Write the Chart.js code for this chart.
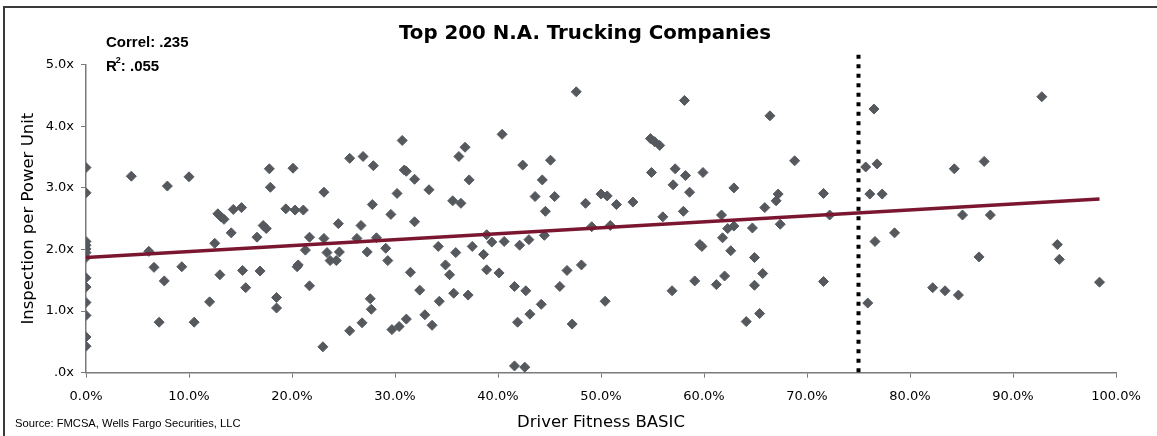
<!DOCTYPE html>
<html>
<head>
<meta charset="utf-8">
<script src="https://cdn.jsdelivr.net/npm/chart.js@4"></script>
<style>
  html, body { margin: 0; padding: 0; background: #fff; }
  #wrap { position: relative; width: 1157px; height: 436px; overflow: hidden; }
  #frame { position: absolute; left: 3px; top: 6px; width: 1200px; height: 480px;
           border-top: 2px solid #3a3a3a; border-left: 2px solid #3a3a3a; pointer-events: none; }
</style>
</head>
<body>
<div id="wrap">
  <canvas id="myChart" width="1157" height="436"></canvas>
  <div id="frame"></div>
</div>
<script>
// driver fitness BASIC (%) per carrier
const fitnessPct = [
  0, 0, 0, 0, 0, 0, 0, 0, 0, 0, 0, 0, 0,
  4.4, 6.1, 6.6, 7.1, 7.6, 7.9, 9.3, 10.0, 10.5, 12.0, 12.5, 12.8, 13.0, 13.4, 13.1,
  14.1, 14.3, 15.1, 15.2, 15.5, 16.6, 16.9, 17.2, 17.5, 17.8, 17.9, 18.5, 18.5, 19.4,
  20.1, 20.3, 21.1, 20.6, 20.5, 21.3, 21.7, 21.7, 23.0, 23.1, 23.1, 23.4, 23.7, 24.3,
  24.6, 24.5, 25.6, 25.6, 26.3, 26.7, 26.9, 26.8, 27.3, 27.6, 27.7, 27.8, 27.9, 28.2,
  29.1, 29.3, 29.6, 29.7, 30.2, 30.4, 30.7, 30.9, 31.1, 31.1, 31.5, 31.9, 31.9, 32.4,
  32.9, 33.3, 33.6, 34.2, 34.3, 34.9, 35.3, 35.6, 35.7, 35.9, 36.2, 36.4, 36.8, 37.1,
  37.2, 37.5, 38.6, 38.9, 38.9, 39.4, 40.1, 40.4, 40.6, 41.6, 41.6, 41.9, 42.1, 42.4,
  42.7, 42.6, 43.0, 43.1, 43.6, 44.2, 44.3, 44.5, 44.6, 45.1, 45.5, 46.0, 46.7, 47.2,
  47.6, 48.1, 48.5, 49.1, 50.0, 50.6, 50.4, 50.9, 51.5, 53.1, 54.8, 55.2, 55.7, 54.9,
  56.0, 56.9, 57.2, 57.0, 58.0, 58.1, 58.2, 58.6, 59.1, 59.6, 59.8, 59.9, 61.2, 61.7,
  61.8, 62.0, 62.3, 62.6, 62.9, 62.9, 64.1, 64.7, 64.9, 64.9, 65.4, 65.7, 65.9, 66.4,
  67.0, 67.2, 67.4, 68.8, 71.6, 71.6, 72.2, 75.7, 75.9, 76.1, 76.5, 76.8, 76.6, 77.3,
  78.5, 82.2, 83.4, 84.3, 84.7, 85.1, 86.7, 87.2, 87.8, 92.8, 94.3, 94.5, 98.4
];
// inspections per power unit, same order
const inspections = [
  3.33, 2.92, 2.13, 2.07, 2.01, 1.95, 1.87, 1.54, 1.39, 1.14, 0.93, 0.58, 0.43,
  3.19, 1.97, 1.71, 0.82, 1.49, 3.03, 1.72, 3.18, 0.82, 1.15, 2.10, 2.58, 1.59, 2.49, 2.53,
  2.27, 2.65, 2.68, 1.66, 1.38, 2.20, 1.65, 2.39, 2.34, 3.31, 3.01, 1.22, 1.05, 2.66,
  3.32, 2.64, 2.64, 1.75, 1.72, 1.99, 2.20, 1.41, 0.42, 2.93, 2.18, 1.95, 1.82, 1.82,
  1.96, 2.42, 3.48, 0.68, 2.18, 2.39, 3.51, 0.81, 1.96, 1.20, 1.03, 2.73, 3.36, 2.19,
  2.02, 1.82, 2.57, 0.70, 2.91, 0.75, 3.77, 3.29, 3.27, 0.87, 1.63, 3.14, 2.45, 1.34,
  0.94, 2.97, 0.77, 2.05, 1.16, 1.75, 1.59, 2.79, 1.29, 1.95, 3.51, 2.75, 3.66, 1.26,
  3.13, 2.05, 1.92, 2.24, 1.67, 2.12, 1.62, 3.87, 2.13, 1.40, 0.11, 0.82, 2.07, 3.37,
  1.33, 0.09, 2.16, 0.95, 2.86, 1.11, 3.13, 2.23, 2.62, 3.45, 2.86, 1.40, 1.66, 0.79,
  4.56, 1.75, 2.75, 2.37, 2.90, 2.87, 1.16, 2.39, 2.73, 2.77, 3.80, 3.75, 3.69, 3.25,
  2.53, 1.33, 3.31, 3.05, 2.62, 4.42, 3.20, 2.93, 1.49, 2.08, 2.05, 3.25, 1.43, 2.56,
  2.19, 1.57, 2.34, 1.98, 3.00, 2.38, 0.83, 2.35, 1.42, 1.87, 0.96, 1.61, 2.68, 4.17,
  2.79, 2.90, 2.41, 3.44, 2.91, 1.48, 2.56, 3.34, 1.13, 2.90, 4.28, 3.39, 2.13, 2.90,
  2.27, 1.38, 1.33, 3.31, 1.26, 2.56, 1.88, 3.43, 2.56, 4.48, 2.08, 1.84, 1.47
];

// linear trend at both ends
const trendX = [0, 98.4];
const trendY = [1.87, 2.82];

// 75th percentile cut-off (dotted line)
const cutoffX = 75;
const cutoffY = [5.16, -0.07];

const xTicks = [0, 10, 20, 30, 40, 50, 60, 70, 80, 90, 100];
const yTicks = [0, 1, 2, 3, 4, 5];

const points = fitnessPct.map((x, i) => ({ x: x, y: inspections[i] }));
const trend = trendX.map((x, i) => ({ x: x, y: trendY[i] }));
const cutoff = cutoffY.map(y => ({ x: cutoffX, y: y }));

// texts drawn on the canvas: title, stats box, source line
const notes = {
  id: 'notes',
  afterDraw(chart) {
    const ctx = chart.ctx;
    ctx.save();
    ctx.fillStyle = '#000';
    ctx.textBaseline = 'alphabetic';

    ctx.font = 'bold 19.8px "DejaVu Sans"';
    ctx.textAlign = 'center';
    ctx.fillText('Top 200 N.A. Trucking Companies', 585, 38.5);

    ctx.textAlign = 'left';
    ctx.font = 'bold 15px "Liberation Sans"';
    ctx.fillText('Correl: .235', 106, 47);
    ctx.fillText('R', 106, 70.5);
    let w = ctx.measureText('R').width;
    ctx.font = 'bold 9px "Liberation Sans"';
    ctx.fillText('2', 106 + w - 1, 63);
    let w2 = ctx.measureText('2').width;
    ctx.font = 'bold 15px "Liberation Sans"';
    ctx.fillText(': .055', 106 + w + w2 - 1, 70.5);

    ctx.font = '11.2px "Liberation Sans"';
    ctx.fillText('Source: FMCSA, Wells Fargo Securities, LLC', 15, 427);
    ctx.restore();
  }
};

var chartArea = document.getElementById('myChart').getContext('2d');

var myChart = new Chart(chartArea, {
  type: 'scatter',
  data: {
    datasets: [
      {
        type: 'line',
        data: cutoff,
        borderColor: '#000',
        borderWidth: 4,
        borderDash: [4, 5.5],
        borderCapStyle: 'butt',
        pointRadius: 0,
        clip: false,
        order: 0
      },
      {
        type: 'line',
        data: trend,
        borderColor: '#7b1631',
        borderWidth: 3.5,
        pointRadius: 0,
        order: 1
      },
      {
        data: points,
        pointStyle: 'rectRot',
        pointRadius: 5,
        borderWidth: 1,
        backgroundColor: '#55595e',
        borderColor: '#55595e',
        order: 2
      }
    ]
  },
  options: {
    responsive: false,
    animation: false,
    devicePixelRatio: 1,
    layout: { padding: { left: 0, right: 41, top: 64.7, bottom: 0 } },
    plugins: {
      legend: { display: false },
      tooltip: { enabled: false }
    },
    scales: {
      x: {
        type: 'linear',
        min: 0,
        max: 100,
        afterBuildTicks: s => { s.ticks = xTicks.map(v => ({ value: v })); },
        afterFit: s => { s.height = 63.3; },
        ticks: {
          padding: 11,
          color: '#000',
          font: { family: 'DejaVu Sans', size: 13 },
          maxRotation: 0,
          callback: v => v.toFixed(1) + '%'
        },
        grid: { drawOnChartArea: false, drawTicks: true, tickLength: 5, color: '#7a7a7a', lineWidth: 1 },
        border: { color: '#7a7a7a', width: 1.5 },
        title: {
          display: true,
          text: 'Driver Fitness BASIC',
          color: '#000',
          font: { family: 'DejaVu Sans', size: 16.5, weight: 'normal' },
          padding: { top: 0, bottom: 3 }
        }
      },
      y: {
        min: 0,
        max: 5,
        afterBuildTicks: s => { s.ticks = yTicks.map(v => ({ value: v })); },
        afterFit: s => { s.width = 86; },
        ticks: {
          padding: 7,
          color: '#000',
          font: { family: 'DejaVu Sans', size: 13 },
          callback: v => v === 0 ? '.0x' : v.toFixed(1) + 'x'
        },
        grid: { drawOnChartArea: false, drawTicks: true, tickLength: 5, color: '#7a7a7a', lineWidth: 1 },
        border: { color: '#7a7a7a', width: 1.5 },
        title: {
          display: true,
          text: 'Inspection per Power Unit',
          color: '#000',
          font: { family: 'DejaVu Sans', size: 16.5, weight: 'normal' },
          padding: { top: 19, bottom: 0 }
        }
      }
    }
  },
  plugins: [notes]
});
</script>
</body>
</html>
